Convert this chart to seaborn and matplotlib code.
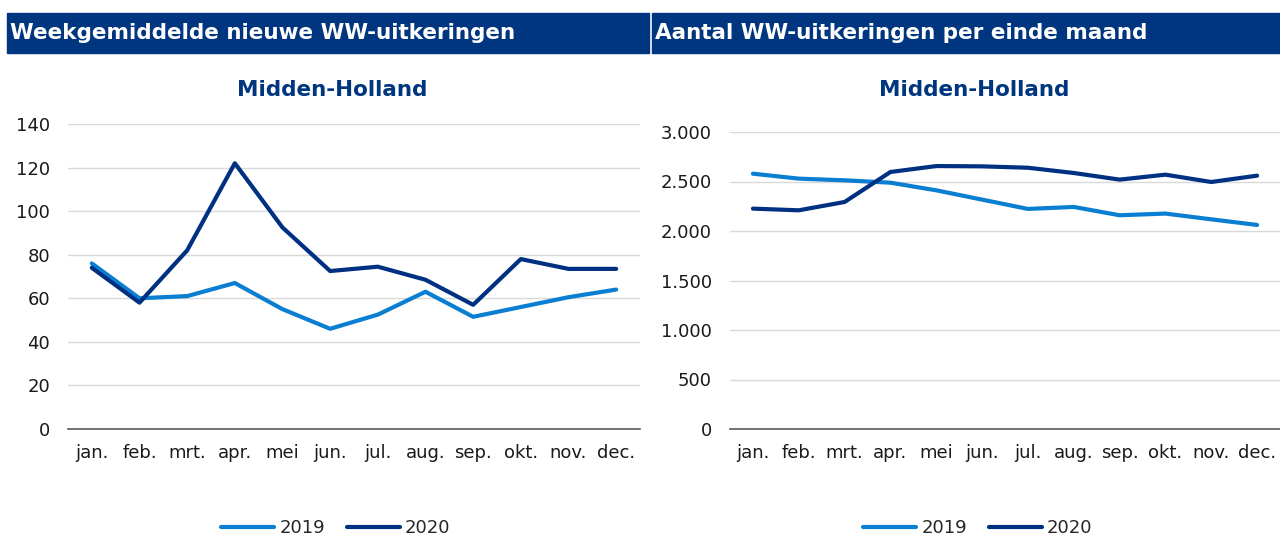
import pandas as pd
import matplotlib
matplotlib.use("Agg")
import matplotlib.pyplot as plt
import seaborn as sns
from matplotlib.patches import Rectangle
from matplotlib.ticker import FuncFormatter

# month labels and values
maanden = ["jan.", "feb.", "mrt.", "apr.", "mei", "jun.", "jul.",
           "aug.", "sep.", "okt.", "nov.", "dec."]

nieuw_2019 = [76, 60, 61, 67, 55, 46, 52.5, 63, 51.5, 56, 60.5, 64]
nieuw_2020 = [74, 58, 82, 122, 92.5, 72.5, 74.5, 68.5, 57, 78, 73.5, 73.5]

stand_2019 = [2579, 2529, 2512, 2488, 2411, 2317, 2223, 2243, 2159, 2176, 2118, 2061]
stand_2020 = [2226, 2209, 2293, 2596, 2656, 2653, 2639, 2586, 2519, 2569, 2495, 2559]

headers = ["Weekgemiddelde nieuwe WW-uitkeringen", "Aantal WW-uitkeringen per einde maand"]
regio = "Midden-Holland"

navy = "#003580"
kleuren = {"2019": "#0a7fd2", "2020": "#003082"}


def to_long(v19, v20):
    df = pd.DataFrame({"maand": maanden * 2,
                       "waarde": v19 + v20,
                       "jaar": ["2019"] * 12 + ["2020"] * 12})
    df["pos"] = list(range(12)) * 2
    return df


sns.set_theme(style="white")
plt.rcParams["font.family"] = ["DejaVu Sans"]

W, H = 1280, 536
fig = plt.figure(figsize=(12.8, 5.36), dpi=100)

# header bars
for x0, x1, txt in [(7, 649, headers[0]), (652, 1280, headers[1])]:
    fig.patches.append(Rectangle((x0 / W, 1 - 53 / H), (x1 - x0) / W, 40 / H,
                                 transform=fig.transFigure, color=navy, zorder=0))
    fig.text((x0 + 3) / W, 1 - 33 / H, txt, color="white", fontsize=15.5,
             fontweight="bold", va="center", ha="left")

panels = [
    (to_long(nieuw_2019, nieuw_2020), (68, 124, 640, 429), (0, 140), 20, 332, 336),
    (to_long(stand_2019, stand_2020), (730, 132, 1280, 429), (0, 3000), 500, 974, 978),
]

for df, (l, t, r, b), ylim, step, title_x, leg_x in panels:
    ax = fig.add_axes([l / W, 1 - b / H, (r - l) / W, (b - t) / H])
    sns.lineplot(data=df, x="pos", y="waarde", hue="jaar", palette=kleuren,
                 linewidth=3, ax=ax, legend=False)
    ax.set_xlim(-0.5, 11.5)
    ax.set_ylim(*ylim)
    ax.set_yticks(range(ylim[0], ylim[1] + 1, step))
    ax.yaxis.set_major_formatter(FuncFormatter(lambda v, p: f"{int(v):,}".replace(",", ".")))
    ax.set_xticks(range(12))
    ax.set_xticklabels(maanden)
    ax.grid(axis="y", color="#d9d9d9", linewidth=1)
    ax.set_axisbelow(True)
    for s in ["top", "right", "left"]:
        ax.spines[s].set_visible(False)
    ax.spines["bottom"].set_color("#595959")
    ax.spines["bottom"].set_linewidth(1.2)
    ax.tick_params(axis="both", labelsize=13, length=0, colors="#1a1a1a")
    ax.tick_params(axis="x", pad=11)
    ax.tick_params(axis="y", pad=13)
    ax.set_xlabel("")
    ax.set_ylabel("")

    fig.text(title_x / W, 1 - 90 / H, regio, color=navy, fontsize=15.5,
             fontweight="bold", ha="center", va="center")

    handles = [plt.Line2D([], [], color=kleuren[k], linewidth=3) for k in ["2019", "2020"]]
    fig.legend(handles, ["2019", "2020"], loc="center",
               bbox_to_anchor=(leg_x / W, 1 - 528 / H),
               ncol=2, frameon=False, fontsize=13, handlelength=2.9,
               columnspacing=1.25, handletextpad=0.3)

fig.savefig("out.png", dpi=100)
